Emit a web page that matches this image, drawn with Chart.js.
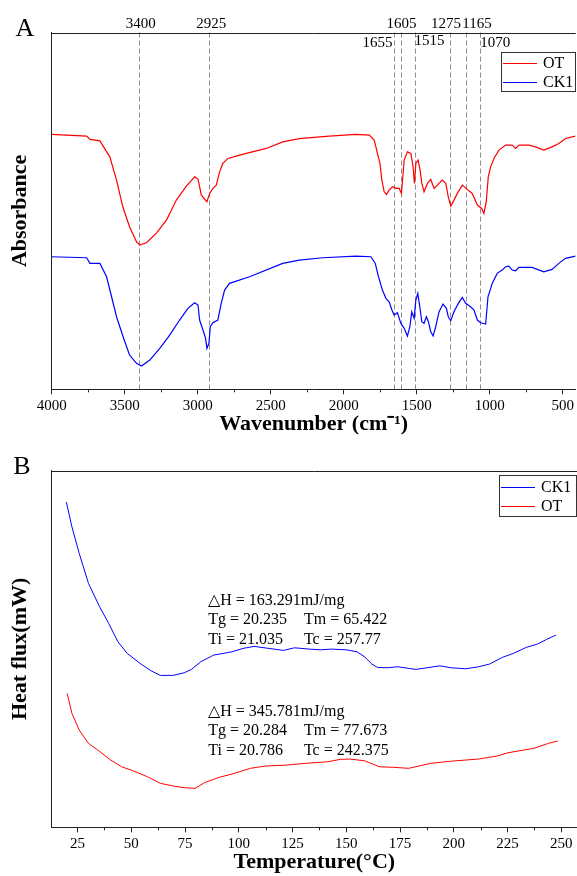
<!DOCTYPE html>
<html>
<head>
<meta charset="utf-8">
<script src="https://cdn.jsdelivr.net/npm/chart.js@4.4.1/dist/chart.umd.min.js"></script>
<style>
  body { margin: 0; background: #fff; width: 577px; height: 876px; overflow: hidden; position: relative; }
  canvas { position: absolute; left: 0; }
  #chartA { top: 0; }
  #chartB { top: 438px; }
</style>
</head>
<body>
<canvas id="chartA" width="577" height="438"></canvas>
<canvas id="chartB" width="577" height="438"></canvas>
<script>
// ---- A: FTIR spectra (absorbance in arbitrary units) ----
const otWavenumber = [4000, 3761, 3738, 3670, 3602, 3556, 3513, 3467, 3419, 3397, 3351, 3283, 3214, 3146, 3078, 3021, 2998, 2975, 2937, 2918, 2896, 2873, 2850, 2828, 2793, 2714, 2531, 2418, 2304, 2100, 1916, 1825, 1791, 1769, 1752, 1739, 1723, 1707, 1689, 1666, 1643, 1620, 1605, 1586, 1564, 1540, 1525, 1516, 1506, 1491, 1477, 1465, 1450, 1427, 1404, 1381, 1359, 1325, 1301, 1284, 1267, 1245, 1222, 1188, 1154, 1120, 1085, 1055, 1040, 1024, 1010, 994, 971, 937, 891, 846, 823, 800, 732, 686, 630, 573, 527, 481, 413];
const otAbs = [255, 253.3, 250, 248.6, 232.6, 209.3, 182.6, 162.6, 147.6, 144.3, 146.6, 156.3, 169.3, 189.3, 203.3, 212.6, 210.3, 194.3, 187.6, 196, 201, 204.3, 217.6, 226, 231, 234.3, 241, 247.6, 250.8, 253.3, 255, 254.3, 249.3, 236, 226, 209.3, 197.6, 195, 199.3, 202.6, 201, 201, 196, 229.3, 237.6, 236, 222.6, 206, 226, 229.3, 219.3, 206, 197.6, 206, 210, 201, 204.3, 209.3, 206, 192.6, 183.3, 189.3, 196, 204.3, 200, 196, 184.3, 181, 176, 187.6, 212.6, 222.6, 231, 239.3, 244.3, 244.3, 241, 244.3, 244.3, 242.6, 239.3, 242.6, 246, 251, 253.3];

const ck1Wavenumber = [4000, 3761, 3738, 3670, 3624, 3590, 3556, 3511, 3467, 3419, 3385, 3328, 3260, 3192, 3124, 3067, 3021, 2998, 2987, 2964, 2946, 2937, 2923, 2914, 2896, 2862, 2839, 2816, 2782, 2645, 2418, 2304, 2144, 1916, 1814, 1784, 1762, 1735, 1711, 1689, 1670, 1655, 1632, 1609, 1586, 1564, 1547, 1534, 1518, 1506, 1493, 1479, 1465, 1450, 1434, 1420, 1404, 1388, 1370, 1347, 1320, 1297, 1284, 1267, 1245, 1215, 1188, 1165, 1131, 1108, 1085, 1062, 1028, 1012, 983, 949, 915, 891, 869, 846, 823, 800, 710, 630, 573, 527, 481, 413];
const ck1Abs = [132.6, 131.6, 126, 126, 112.6, 92.6, 72.6, 52.6, 34.3, 26, 23.3, 29.3, 41, 54.3, 69.3, 81, 86.6, 84.3, 69.3, 59.3, 51, 41, 46, 62.6, 66.6, 69.3, 86, 99.3, 106, 112.6, 126, 129.3, 131.6, 133.3, 132.6, 126, 112.6, 99.3, 91, 87.6, 79.3, 74.3, 76.6, 66, 61, 53.3, 62.6, 77.6, 71, 89.3, 96, 82.6, 67.6, 66, 72.6, 67.6, 57.6, 53.3, 62.6, 77.6, 85.3, 81, 72.6, 68.6, 77.6, 86, 92, 86, 82.6, 79.3, 69.3, 66.6, 65.3, 92.6, 106, 116, 119.3, 122.6, 123.3, 119.3, 118.6, 122, 122, 117.6, 120, 126, 131, 133.3];

const peakWavenumbers = [3400, 2925, 1655, 1605, 1515, 1275, 1165, 1070];
const wavenumberTicks = [4000, 3500, 3000, 2500, 2000, 1500, 1000, 500];

// ---- B: DSC curves (heat flux in arbitrary units) ----
const ck1Temp = [19.8, 22.4, 25.8, 30.1, 35.3, 39.5, 43.8, 48.1, 54.1, 59.2, 63.5, 69.5, 74.6, 78, 82.3, 88.3, 96.9, 102, 107.1, 114, 120.8, 125.9, 132.8, 137.9, 143, 149.9, 155, 158.5, 161.9, 164.5, 168.8, 173.9, 179, 182.4, 187.5, 193.5, 198.7, 205.5, 211.5, 216.6, 222.6, 227.7, 233.7, 238.9, 243.2, 247.5];
const ck1Flux = [325.6, 300.6, 274, 244, 220.6, 204, 185.6, 174, 164, 156.6, 152, 152, 154.6, 158, 165.6, 172.3, 175.6, 179, 181, 179, 177, 179.6, 178.3, 177.6, 178.3, 177.6, 175.6, 170.6, 163.3, 160, 159.6, 160.6, 159, 158, 159.6, 161.6, 159.6, 158.6, 160.6, 163.3, 170, 174, 180, 183.3, 188, 192.3];

const otTemp = [20.2, 22.4, 25.8, 30.1, 34.4, 40.4, 45.5, 50.7, 57.5, 63.5, 69.5, 74.6, 79.8, 84, 90.9, 96.9, 105.4, 112.3, 122.5, 131.1, 141.4, 147.3, 151.6, 158.5, 165.3, 172.1, 179, 189.2, 199.5, 211.5, 220.1, 225.2, 237.2, 244, 248.3];
const otFlux = [134, 114, 97.3, 84, 77.3, 67.3, 60.6, 56.6, 50.6, 44, 41.3, 39.6, 39, 44.6, 50, 53.3, 59, 61.3, 62.3, 64, 65.6, 68, 68.3, 66.6, 60.6, 60, 59, 64, 66.3, 68.3, 71.3, 74.6, 79, 84, 86.3];

const temperatureTicks = [25, 50, 75, 100, 125, 150, 175, 200, 225, 250];
const ck1Notes = [['△H = 163.291mJ/mg'], ['Tg = 20.235', 'Tm = 65.422'], ['Ti = 21.035', 'Tc = 257.77']];
const otNotes = [['△H = 345.781mJ/mg'], ['Tg = 20.284', 'Tm = 77.673'], ['Ti = 20.786', 'Tc = 242.375']];

const serif = "'Liberation Serif', 'Times New Roman', serif";
Chart.defaults.font.family = serif;
Chart.defaults.color = '#000';

const pts = (xs, ys) => xs.map((v, i) => ({ x: v, y: ys[i] }));

// box top edge, minor ticks, panel letter and a legend drawn inside the plot
function framePlugin(letter, minorStep, legend) {
  return {
    id: 'frame' + letter,
    afterDraw(chart) {
      const { ctx, chartArea: a, scales: { x } } = chart;
      ctx.save();
      ctx.strokeStyle = '#222';
      ctx.lineWidth = 1;
      ctx.beginPath();
      ctx.moveTo(a.left, Math.round(a.top) + 0.5);
      ctx.lineTo(a.right, Math.round(a.top) + 0.5);
      // minor ticks
      const lo = Math.min(x.min, x.max), hi = Math.max(x.min, x.max);
      for (let v = Math.ceil(lo / minorStep) * minorStep; v <= hi; v += minorStep) {
        if (Math.abs((v / minorStep) % 2) < 1e-6) continue;
        const px = Math.round(x.getPixelForValue(v)) + 0.5;
        ctx.moveTo(px, a.bottom);
        ctx.lineTo(px, a.bottom + 3);
      }
      ctx.stroke();

      ctx.font = '26px ' + serif;
      ctx.fillStyle = '#000';
      ctx.textAlign = 'center';
      ctx.textBaseline = 'middle';
      ctx.fillText(letter, legend.letterX, 29);

      // legend
      ctx.strokeStyle = '#333';
      ctx.strokeRect(legend.x + 0.5, legend.y + 0.5, legend.w, legend.h);
      ctx.font = '16px ' + serif;
      ctx.textAlign = 'left';
      chart.data.datasets.forEach((ds, i) => {
        const ly = legend.y + legend.first + i * legend.step;
        ctx.strokeStyle = ds.borderColor;
        ctx.beginPath();
        ctx.moveTo(legend.x + 2, Math.round(ly) + 0.5);
        ctx.lineTo(legend.x + 36, Math.round(ly) + 0.5);
        ctx.stroke();
        ctx.fillText(ds.label, legend.x + 42, ly + 1);
      });
      ctx.restore();
    }
  };
}

// dashed guide lines + band labels for panel A
const peakPlugin = {
  id: 'peaks',
  beforeDatasetsDraw(chart) {
    const { ctx, chartArea: a, scales: { x } } = chart;
    ctx.save();
    ctx.strokeStyle = '#8c8c8c';
    ctx.lineWidth = 1;
    ctx.setLineDash([5, 3]);
    peakWavenumbers.forEach(w => {
      const px = Math.round(x.getPixelForValue(w)) + 0.5;
      ctx.beginPath();
      ctx.moveTo(px, a.top);
      ctx.lineTo(px, a.bottom);
      ctx.stroke();
    });
    ctx.restore();
  },
  afterDraw(chart) {
    const { ctx, scales: { x } } = chart;
    // label shift from its line, and which row it sits in
    const dx = [1.5, 2.7, -16.6, 0, 15, -3.6, 11.3, 15.7];
    const rowY = [24.5, 24.5, 43, 24.5, 41, 24.5, 24.5, 43];
    ctx.save();
    ctx.font = '15px ' + serif;
    ctx.fillStyle = '#000';
    ctx.textAlign = 'center';
    ctx.textBaseline = 'middle';
    peakWavenumbers.forEach((w, i) => {
      ctx.fillText(String(w), x.getPixelForValue(w) + dx[i], rowY[i]);
    });
    ctx.restore();
  }
};

// DSC values written beside the curves in panel B
const notesPlugin = {
  id: 'notes',
  afterDraw(chart) {
    const { ctx, scales: { x, y } } = chart;
    ctx.save();
    ctx.font = '16px ' + serif;
    ctx.fillStyle = '#000';
    ctx.textAlign = 'left';
    ctx.textBaseline = 'middle';
    [[ck1Notes, 226.6], [otNotes, 115.6]].forEach(([notes, top]) => {
      const y0 = y.getPixelForValue(top);
      notes.forEach((row, r) => {
        row.forEach((txt, c) => {
          ctx.fillText(txt, x.getPixelForValue(c ? 130.3 : 85.8), y0 + r * 19.4);
        });
      });
    });
    ctx.restore();
  }
};

function axisX(opts) {
  return Object.assign({
    type: 'linear',
    ticks: { font: { size: 15 }, padding: 3, maxRotation: 0, autoSkip: false, callback: v => String(v) },
    grid: { drawOnChartArea: false, tickLength: 5, color: '#222' },
    border: { color: '#222' },
    afterFit: s => { s.height = 48.7; }
  }, opts);
}

function axisY(text) {
  return {
    min: 0, max: 357,
    ticks: { display: false },
    grid: { display: false, drawTicks: false },
    border: { display: true, color: '#222' },
    title: { display: true, text, font: { size: 22, weight: 'bold' }, padding: { top: 7.5, bottom: 0 } },
    afterFit: s => { s.width = 51.7; }
  };
}

function line(label, color, data, width) {
  return { label, data, borderColor: color, borderWidth: width, pointRadius: 0, tension: 0, fill: false };
}

new Chart(document.getElementById('chartA'), {
  type: 'line',
  data: {
    datasets: [
      line('OT', '#ff0000', pts(otWavenumber, otAbs), 1.2),
      line('CK1', '#0000ff', pts(ck1Wavenumber, ck1Abs), 1.2)
    ]
  },
  options: {
    responsive: false,
    animation: false,
    layout: { padding: { top: 32.5, right: 0, left: 0, bottom: 0 } },
    plugins: { legend: { display: false }, tooltip: { enabled: false } },
    scales: {
      x: axisX({
        reverse: true, min: 411, max: 4000,
        afterBuildTicks: s => { s.ticks = wavenumberTicks.map(v => ({ value: v })); },
        title: { display: true, text: 'Wavenumber (cm⁻¹)', font: { size: 22, weight: 'bold' }, padding: { top: 0, bottom: 0 } }
      }),
      y: axisY('Absorbance')
    }
  },
  plugins: [peakPlugin, framePlugin('A', 250, { x: 501, y: 52, w: 74, h: 39, first: 11, step: 18.5, letterX: 25 })]
});

new Chart(document.getElementById('chartB'), {
  type: 'line',
  data: {
    datasets: [
      line('CK1', '#0000ff', pts(ck1Temp, ck1Flux), 1),
      line('OT', '#ff0000', pts(otTemp, otFlux), 1)
    ]
  },
  options: {
    responsive: false,
    animation: false,
    layout: { padding: { top: 32.5, right: 0, left: 0, bottom: 0 } },
    plugins: { legend: { display: false }, tooltip: { enabled: false } },
    scales: {
      x: axisX({
        min: 13, max: 257.3,
        afterBuildTicks: s => { s.ticks = temperatureTicks.map(v => ({ value: v })); },
        title: { display: true, text: 'Temperature(°C)', font: { size: 22, weight: 'bold' }, padding: { top: 0, bottom: 0 } }
      }),
      y: axisY('Heat flux(mW)')
    }
  },
  plugins: [notesPlugin, framePlugin('B', 12.5, { x: 499, y: 37, w: 77, h: 41, first: 12, step: 18.5, letterX: 22 })]
});
</script>
</body>
</html>
